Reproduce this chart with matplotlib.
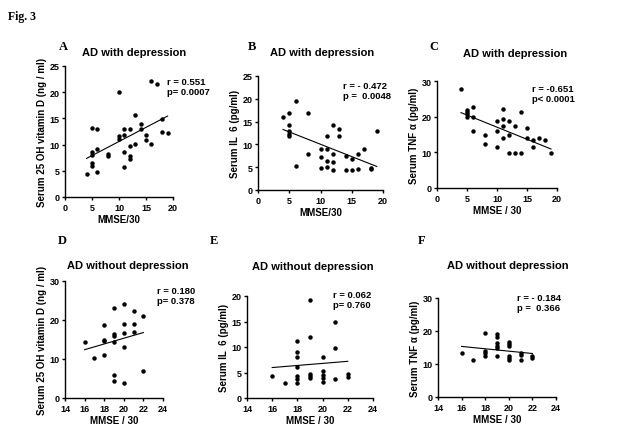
import numpy as np
import matplotlib
matplotlib.use("Agg")
import matplotlib.pyplot as plt

plt.rcParams['font.family'] = ['Liberation Sans', 'DejaVu Sans']
plt.rcParams['font.weight'] = 'bold'

# --- data ---
# A: AD with depression, vitamin D
a_x = [4, 5, 5, 5, 5, 5, 6, 6, 6, 8, 8, 10, 10, 10, 11, 11, 11, 11, 12, 12, 12, 12,
       13, 13, 14, 14, 15, 15, 16, 16, 17, 18, 18, 19]
a_y = [4.45, 13.2, 8.5, 8.1, 6.4, 6.0, 12.9, 9.2, 4.8, 8.3, 7.8, 20.0, 11.6, 11.1,
       12.9, 11.9, 8.6, 5.8, 12.9, 9.7, 7.8, 7.3, 15.6, 10.2, 14.0, 12.9, 11.8, 10.8,
       10.2, 22.2, 21.6, 14.8, 12.4, 12.3]
# B: AD with depression, IL-6
b_x = [4, 5, 5, 5, 5, 5, 6, 6, 8, 8, 10, 10, 10, 11, 11, 11, 11, 12, 12, 12, 12,
       13, 13, 14, 14, 15, 15, 16, 16, 17, 18, 18, 19]
b_y = [15.9, 16.8, 14.2, 13.0, 12.3, 11.8, 19.6, 5.2, 16.8, 7.8, 9.1, 7.2, 4.9,
       11.8, 9.1, 6.3, 5.1, 14.2, 7.8, 6.1, 4.3, 13.4, 11.8, 7.5, 4.3, 6.9, 4.3,
       7.8, 4.5, 9.0, 4.8, 4.5, 12.9]
# C: AD with depression, TNF-alpha
c_x = [4, 5, 5, 5, 5, 6, 6, 6, 8, 8, 10, 10, 10, 11, 11, 11, 11, 12, 12, 12,
       13, 13, 14, 14, 15, 15, 16, 16, 17, 18, 19]
c_y = [27.7, 21.8, 21.4, 20.7, 19.8, 22.6, 19.8, 15.9, 14.9, 12.3, 18.8, 15.9, 11.4,
       22.1, 19.3, 17.3, 13.9, 18.8, 14.9, 9.7, 17.3, 9.7, 21.2, 9.7, 16.8, 13.9,
       13.5, 11.4, 13.9, 13.5, 9.7]
# D: AD without depression, vitamin D
d_x = [16, 17, 18, 18, 18, 18, 19, 19, 19, 19, 19, 19, 20, 20, 20, 20, 20,
       21, 21, 21, 22, 22]
d_y = [14.3, 10.2, 18.7, 14.9, 14.5, 11.0, 23.0, 16.4, 16.0, 14.3, 6.0, 4.4,
       24.2, 19.1, 16.7, 13.1, 3.8, 22.2, 19.1, 17.0, 21.1, 6.8]
# E: AD without depression, IL-6
e_x = [16, 17, 18, 18, 18, 18, 18, 18, 18, 19, 19, 19, 19, 19, 20, 20, 20, 20, 20,
       21, 21, 21, 22, 22]
e_y = [4.4, 2.9, 11.2, 9.1, 8.0, 6.0, 4.4, 3.7, 2.9, 19.2, 12.0, 4.8, 4.3, 3.9,
       8.0, 5.2, 4.5, 3.9, 3.2, 15.0, 9.9, 3.7, 4.7, 4.1]
# F: AD without depression, TNF-alpha
f_x = [16, 17, 18, 18, 18, 18, 19, 19, 19, 19, 19, 19, 20, 20, 20, 20, 20, 20,
       21, 21, 21, 22, 22]
f_y = [13.2, 11.3, 19.3, 14.0, 13.4, 12.3, 19.1, 18.3, 16.3, 15.4, 14.8, 12.3,
       16.8, 16.1, 15.4, 12.3, 11.7, 11.2, 13.2, 12.7, 11.3, 12.4, 11.8]

stats = ["r = 0.551\np= 0.0007", "r = - 0.472\np =  0.0048", "r = -0.651\np< 0.0001",
         "r = 0.180\np= 0.378", "r = 0.062\np= 0.760", "r = - 0.184\np =  0.366"]
titles = ["AD with depression"] * 3 + ["AD without depression"] * 3
letters = ["A", "B", "C", "D", "E", "F"]
ylabels = ["Serum 25 OH vitamin D (ng / ml)", "Serum IL  6 (pg/ml)", "Serum TNF \u03b1 (pg/ml)",
           "Serum 25 OH vitamin D (ng / ml)", "Serum IL  6 (pg/ml)", "Serum TNF \u03b1 (pg/ml)"]
xlabels = ["MMSE/30", "MMSE/30", "MMSE / 30", "MMSE / 30", "MMSE / 30", "MMSE / 30"]
yticks = [[0, 5, 10, 15, 20, 25], [0, 5, 10, 15, 20, 25], [0, 10, 20, 30],
          [0, 10, 20, 30], [0, 5, 10, 15, 20], [0, 10, 20, 30]]
xticks = [[0, 5, 10, 15, 20]] * 3 + [[14, 16, 18, 20, 22, 24]] * 3

W, H = 642, 439


def px(x, y):
    return x / W, 1 - y / H


# axes boxes in pixels: left, right, top, bottom
boxes = [(65, 173, 67, 198), (258, 383, 77, 191), (437, 557, 82, 189),
         (65, 163, 282, 399), (247, 373, 297, 399), (438, 556, 299, 398)]
title_pos = [(134, 53), (322, 53), (515, 54), (128, 266), (313, 267), (508, 266)]
letter_pos = [(63, 47), (252, 47), (434, 47), (62, 241), (214, 241), (422, 241)]
stat_pos = [(167, 78), (343, 82), (532, 85), (157, 287), (333, 291), (517, 294)]

xs = [a_x, b_x, c_x, d_x, e_x, f_x]
ys = [a_y, b_y, c_y, d_y, e_y, f_y]

fig = plt.figure(figsize=(W / 100, H / 100), dpi=100)
fig.text(*px(8, 17), "Fig. 3", family="Liberation Serif", fontsize=8.5,
         fontweight="bold", va="center")

for i in range(6):
    l, r, t, b = boxes[i]
    ax = fig.add_axes([l / W, 1 - b / H, (r - l) / W, (b - t) / H])
    x = np.array(xs[i], float)
    y = np.array(ys[i], float)
    ax.plot(x, y, 'o', color='black', ms=3.2, mec='none')
    k, c0 = np.polyfit(x, y, 1)
    xx = np.array([x.min(), x.max()])
    ax.plot(xx, k * xx + c0, color='black', lw=0.8)
    ax.set_xlim(xticks[i][0], xticks[i][-1])
    ax.set_ylim(yticks[i][0], yticks[i][-1])
    ax.set_xticks(xticks[i])
    ax.set_yticks(yticks[i])
    for s in ['top', 'right']:
        ax.spines[s].set_visible(False)
    for s in ['left', 'bottom']:
        ax.spines[s].set_linewidth(1.0)
    ax.tick_params(labelsize=6.5, width=1.0, length=2.5, pad=1.5)
    for lab in ax.get_xticklabels() + ax.get_yticklabels():
        lab.set_fontweight('bold')
    ax.set_xlabel(xlabels[i], fontsize=7, fontweight='bold', labelpad=2)
    ax.set_ylabel(ylabels[i], fontsize=7, fontweight='bold', labelpad=2)
    ax.patch.set_alpha(0)

    fig.text(*px(*title_pos[i]), titles[i], fontsize=8, fontweight='bold',
             ha='center', va='center')
    fig.text(*px(*letter_pos[i]), letters[i], family="Liberation Serif",
             fontsize=9, fontweight='bold', ha='center', va='center')
    fig.text(*px(*stat_pos[i]), stats[i], fontsize=6.8, fontweight='bold',
             ha='left', va='top', linespacing=1.2)

fig.savefig("out.png", dpi=100)
